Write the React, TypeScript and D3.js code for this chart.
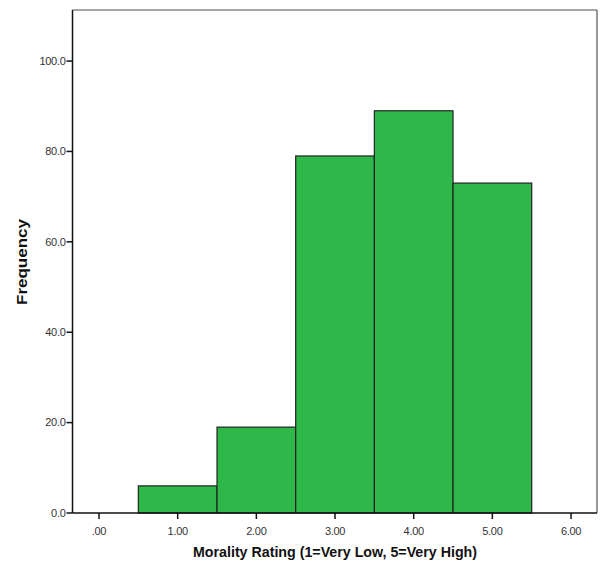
import React from "react";
import * as d3 from "d3";

const binCenters = [1, 2, 3, 4, 5];
const frequencies = [6, 19, 79, 89, 73];
const xTicks = [0, 1, 2, 3, 4, 5, 6];
const yTicks = [0, 20, 40, 60, 80, 100];
const xTitle = "Morality Rating (1=Very Low, 5=Very High)";
const yTitle = "Frequency";

export default function App() {
  const W = 602, H = 571;
  const left = 72.5, right = 597, top = 10, bottom = 513;
  const x = d3.scaleLinear().domain([-0.337, 6.33]).range([left, right]);
  const y = d3.scaleLinear().domain([0, 111.3]).range([bottom, top]);
  const fmtX = (v: number) => (v === 0 ? ".00" : d3.format(".2f")(v));
  const fmtY = d3.format(".1f");
  return (
    <svg width={W} height={H} style={{ position: "absolute", left: 0, top: 0, background: "#fff" }}
      fontFamily="'Liberation Sans', Arial, sans-serif">
      <rect x={0} y={0} width={W} height={H} fill="#fff" />
      <line x1={left} y1={top} x2={right} y2={top} stroke="#888" strokeWidth={1.5} />
      <line x1={right} y1={top} x2={right} y2={bottom} stroke="#555" strokeWidth={1.2} />
      {binCenters.map((c, i) => (
        <rect key={i} x={x(c - 0.5)} y={y(frequencies[i])} width={x(c + 0.5) - x(c - 0.5)}
          height={y(0) - y(frequencies[i])} fill="#2fb84a" stroke="#222" strokeWidth={1.2} />
      ))}
      <line x1={left} y1={top} x2={left} y2={bottom} stroke="#111" strokeWidth={1.5} />
      <line x1={left} y1={bottom} x2={right} y2={bottom} stroke="#111" strokeWidth={1.5} />
      {yTicks.map((t) => (
        <g key={t}>
          <line x1={left - 6} x2={left} y1={y(t)} y2={y(t)} stroke="#111" strokeWidth={1.5} />
          <text x={left - 7} y={y(t)} dy="0.35em" textAnchor="end" fontSize={11} fill="#333"
            letterSpacing={-0.3}>{fmtY(t)}</text>
        </g>
      ))}
      {xTicks.map((t) => (
        <g key={t}>
          <line x1={x(t)} x2={x(t)} y1={bottom} y2={bottom + 6} stroke="#111" strokeWidth={1.5} />
          <text x={x(t)} y={bottom + 22} textAnchor="middle" fontSize={11} fill="#333"
            letterSpacing={-0.3}>{fmtX(t)}</text>
        </g>
      ))}
      <text x={335} y={557} textAnchor="middle" fontSize={14} fontWeight="bold" fill="#111"
        textLength={284} lengthAdjust="spacingAndGlyphs">{xTitle}</text>
      <text transform={`translate(27,262) rotate(-90)`} textAnchor="middle" fontSize={14}
        fontWeight="bold" fill="#111" textLength={86} lengthAdjust="spacingAndGlyphs">{yTitle}</text>
    </svg>
  );
}
